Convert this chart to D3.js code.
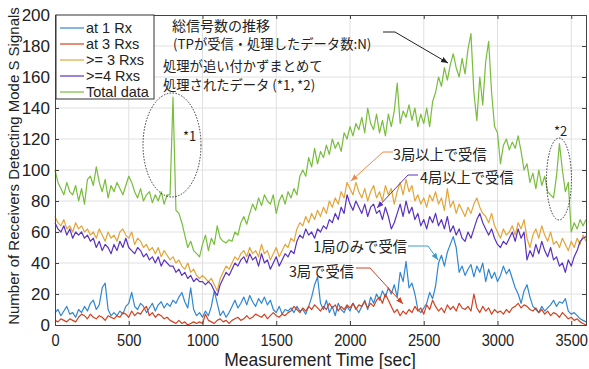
<!DOCTYPE html>
<html>
<head>
<meta charset="utf-8">
<script src="https://cdn.jsdelivr.net/npm/d3@7"></script>
<style>
  body { margin: 0; background: #fff; }
  svg text { font-family: "Liberation Sans", Arial, sans-serif; fill: #222; }
  svg text.jp { font-family: "Noto Sans CJK JP", sans-serif; }
</style>
</head>
<body>
<svg id="chart" width="589" height="369"></svg>
<script>
// samples every 20 s, 0 .. 3600 s
const step = 20;

const at1Rx = [
  8, 10, 6, 9, 12, 7, 8, 5, 10, 8,
  12, 9, 14, 16, 10, 13, 24, 27, 10, 6,
  8, 6, 9, 7, 12, 14, 21, 12, 10, 14,
  12, 8, 11, 14, 9, 13, 15, 11, 14, 12,
  16, 14, 18, 21, 15, 11, 24, 10, 6, 8,
  5, 9, 6, 12, 22, 14, 6, 9, 5, 8,
  12, 16, 11, 14, 18, 13, 19, 15, 12, 17,
  14, 18, 13, 16, 10, 8, 12, 7, 10, 9,
  11, 8, 12, 9, 10, 7, 12, 18, 26, 31,
  14, 10, 16, 8, 12, 6, 14, 10, 8, 12,
  9, 14, 11, 8, 12, 16, 10, 18, 14, 20,
  16, 22, 18, 24, 20, 26, 18, 34, 28, 41,
  24, 27, 20, 10, 8, 11, 14, 21, 17, 25,
  40, 45, 38, 47, 52, 57, 50, 34, 38, 32,
  36, 39, 31, 38, 34, 40, 28, 36, 30, 34,
  28, 32, 38, 33, 36, 30, 24, 20, 14, 22,
  26, 18, 12, 10, 8, 12, 9, 11, 13, 16,
  12, 15, 14, 17, 9, 7, 8, 6, 4, 3,
  2
];

const at3Rxs = [
  3, 2, 4, 3, 2, 4, 3, 2, 5, 7,
  6, 4, 7, 5, 4, 6, 5, 3, 6, 5,
  4, 6, 5, 8, 7, 5, 9, 6, 8, 7,
  10, 12, 6, 8, 5, 7, 6, 4, 5, 3,
  2, 1, 3, 1, 2, 0, 1, 2, 1, 2,
  1, 7, 3, 2, 1, 3, 4, 2, 3, 1,
  3, 4, 5, 3, 4, 6, 4, 5, 7, 6,
  5, 7, 4, 6, 8, 6, 5, 7, 6, 8,
  9, 12, 10, 8, 11, 9, 12, 10, 13, 11,
  9, 12, 10, 14, 11, 13, 9, 12, 10, 13,
  11, 14, 10, 13, 12, 15, 11, 14, 12, 16,
  18, 14, 20, 16, 12, 8, 10, 6, 9, 7,
  10, 8, 12, 9, 11, 7, 13, 10, 16, 12,
  9, 11, 8, 13, 10, 12, 9, 14, 11, 10,
  12, 9, 20, 11, 8, 12, 9, 11, 7, 10,
  8, 9, 7, 10, 8, 11, 12, 14, 11, 13,
  12, 10, 9, 11, 8, 10, 7, 9, 6, 8,
  7, 5, 8, 6, 4, 5, 3, 4, 2, 1,
  0
];

const atLeast3Rxs = [
  70, 66, 64, 68, 62, 64, 60, 66, 62, 64,
  60, 62, 58, 60, 56, 62, 58, 54, 60, 56,
  58, 54, 60, 62, 58, 56, 60, 52, 56, 54,
  50, 52, 48, 50, 46, 50, 44, 48, 45, 42,
  44, 40, 42, 38, 36, 40, 34, 36, 32, 30,
  32, 30, 28, 30, 26, 22, 30, 34, 38, 36,
  40, 44, 42, 46, 48, 44, 50, 46, 48, 44,
  52, 46, 48, 42, 46, 50, 44, 48, 52, 50,
  56, 54, 62, 66, 64, 70, 66, 72, 68, 74,
  70, 76, 72, 80, 76, 82, 78, 86, 82, 92,
  88, 84, 92, 86, 82, 88, 80, 86, 90, 82,
  86, 80, 90, 84, 88, 78, 86, 92, 84, 94,
  86, 90, 80, 84, 78, 82, 76, 84, 80, 86,
  78, 82, 74, 88, 76, 80, 72, 78, 74, 70,
  76, 72, 78, 82, 76, 72, 70, 66, 72, 64,
  60, 56, 62, 58, 60, 64, 58, 66, 62, 68,
  56, 50, 58, 62, 56, 64, 58, 54, 60, 52,
  54, 50, 56, 52, 48, 54, 50, 56, 52, 58,
  54
];

const atLeast4Rxs = [
  66, 62, 60, 64, 58, 62, 56, 60, 58, 60,
  56, 58, 54, 56, 50, 54, 48, 52, 50, 46,
  52, 48, 54, 50, 56, 50, 48, 46, 50, 48,
  44, 46, 42, 44, 40, 44, 38, 42, 40, 38,
  38, 34, 36, 32, 34, 30, 32, 28, 30, 28,
  28, 26, 28, 26, 22, 19, 26, 30, 34, 32,
  36, 40, 38, 42, 44, 40, 46, 42, 44, 38,
  46, 40, 42, 36, 40, 44, 38, 42, 46, 44,
  48, 46, 54, 58, 56, 62, 58, 60, 56, 62,
  60, 64, 62, 68, 66, 72, 68, 76, 72, 84,
  78, 74, 80, 76, 72, 78, 70, 76, 78, 72,
  74, 68, 76, 70, 62, 66, 72, 78, 70, 80,
  72, 76, 68, 72, 64, 68, 62, 70, 66, 72,
  64, 68, 62, 70, 60, 64, 58, 62, 56, 54,
  60, 56, 62, 68, 72, 66, 62, 58, 62, 56,
  52, 50, 54, 52, 56, 60, 54, 62, 56, 60,
  42, 48, 44, 52, 46, 54, 48, 44, 50, 42,
  44, 38, 40, 34, 42, 38, 44, 48, 54, 56,
  57
];

const totalData = [
  100, 92, 88, 84, 92, 86, 84, 90, 80, 88,
  78, 94, 96, 90, 102, 92, 86, 94, 82, 90,
  86, 92, 88, 84, 90, 96, 92, 86, 82, 88,
  80, 84, 86, 79, 84, 80, 86, 78, 84, 84,
  147, 74, 72, 66, 58, 50, 54, 48, 46, 44,
  52, 58, 48, 56, 52, 64, 56, 54, 53, 55,
  54, 60, 58, 66, 70, 65, 72, 78, 74, 82,
  77, 84, 80, 78, 84, 72, 80, 84, 78, 86,
  82, 88, 84, 96, 100, 96, 108, 102, 114, 104,
  112, 108, 116, 110, 120, 114, 118, 112, 124, 120,
  128, 122, 130, 126, 134, 124, 140, 130, 126, 136,
  124, 132, 122, 136, 128, 138, 156, 130, 138, 134,
  142, 132, 140, 128, 136, 130, 140, 128, 144, 150,
  160, 154, 166, 158, 168, 175, 166, 160, 172, 162,
  178, 188, 150, 132, 160, 142, 170, 183, 150, 128,
  124, 104, 116, 120, 113, 118, 114, 122, 112, 100,
  104, 92, 98, 88, 100, 90, 96, 86, 84, 82,
  96, 117, 100, 86, 92, 60, 66, 62, 68, 64,
  68
];

const seriesNames = ['at 1 Rx', 'at 3 Rxs', '>= 3 Rxs', '>=4 Rxs', 'Total data'];
const seriesColors = ['#2f86d2', '#d2401e', '#e2a53a', '#5a32c0', '#78bd3c'];
const xTicks = [0, 500, 1000, 1500, 2000, 2500, 3000, 3500];
const yTicks = [0, 20, 40, 60, 80, 100, 120, 140, 160, 180, 200];

const series = [at1Rx, at3Rxs, atLeast3Rxs, atLeast4Rxs, totalData].map((values, i) => ({
  name: seriesNames[i],
  color: seriesColors[i],
  values: values,
}));

const svg = d3.select('#chart');
const plotLeft = 55, plotRight = 586, plotTop = 15, plotBottom = 325;

const x = d3.scaleLinear().domain([0, 3600]).range([plotLeft, plotRight]);
const y = d3.scaleLinear().domain([0, 200]).range([plotBottom, plotTop]);

// grid
svg.append('g')
  .selectAll('line')
  .data(xTicks.slice(1))
  .join('line')
  .attr('x1', (d) => x(d)).attr('x2', (d) => x(d))
  .attr('y1', plotTop).attr('y2', plotBottom)
  .attr('stroke', '#e0e0e0');
svg.append('g')
  .selectAll('line')
  .data(yTicks.slice(1, -1))
  .join('line')
  .attr('x1', plotLeft).attr('x2', plotRight)
  .attr('y1', (d) => y(d)).attr('y2', (d) => y(d))
  .attr('stroke', '#e0e0e0');

// lines
const line = d3.line()
  .x((d, i) => x(i * step))
  .y((d) => y(d));

svg.append('g')
  .attr('fill', 'none')
  .selectAll('path')
  .data(series)
  .join('path')
  .attr('stroke', (d) => d.color)
  .attr('stroke-width', 1.2)
  .attr('stroke-linejoin', 'round')
  .attr('d', (d) => line(d.values));

// axes (MATLAB style, ticks inward, box on)
const fmt = d3.format('d');
const xAxis = svg.append('g')
  .attr('transform', `translate(0,${plotBottom})`)
  .call(d3.axisBottom(x).tickValues(xTicks).tickFormat(fmt).tickSize(-4).tickPadding(9));
const yAxis = svg.append('g')
  .attr('transform', `translate(${plotLeft},0)`)
  .call(d3.axisLeft(y).tickValues(yTicks).tickFormat(fmt).tickSize(-4).tickPadding(5));
svg.append('g')
  .attr('transform', `translate(0,${plotTop})`)
  .call(d3.axisTop(x).tickValues(xTicks).tickSize(-4).tickFormat(''));
svg.append('g')
  .attr('transform', `translate(${plotRight},0)`)
  .call(d3.axisRight(y).tickValues(yTicks).tickSize(-4).tickFormat(''));

svg.selectAll('.domain').attr('stroke', '#444');
svg.selectAll('.tick line').attr('stroke', '#444');
// the source figure uses tall, narrow digits on the time axis
xAxis.selectAll('text')
  .attr('font-size', 17).attr('fill', '#222')
  .attr('transform', 'scale(0.86,1)');
yAxis.selectAll('text').attr('font-size', 17).attr('fill', '#222');

// axis titles
svg.append('text')
  .attr('x', 320)
  .attr('y', 366)
  .attr('text-anchor', 'middle')
  .attr('font-size', 17.5)
  .text('Measurement Time [sec]');
svg.append('text')
  .attr('transform', 'translate(19,166) rotate(-90)')
  .attr('text-anchor', 'middle')
  .attr('font-size', 15)
  .text('Number of Receivers Detecting Mode S Signals');

// legend
const legend = svg.append('g');
legend.append('rect')
  .attr('x', 56).attr('y', 15)
  .attr('width', 98).attr('height', 84)
  .attr('fill', '#fff')
  .attr('stroke', '#333');
const entry = legend.selectAll('g.entry')
  .data(series)
  .join('g')
  .attr('class', 'entry')
  .attr('transform', (d, i) => `translate(0,${28 + i * 16})`);
entry.append('line')
  .attr('x1', 60).attr('x2', 84)
  .attr('stroke', (d) => d.color)
  .attr('stroke-width', 1.2);
entry.append('text')
  .attr('x', 86)
  .attr('y', 5)
  .attr('font-size', 14.5)
  .text((d) => d.name);

// annotations
const notes = svg.append('g');
const note = (tx, ty, str, size, anchor) =>
  notes.append('text')
    .attr('class', 'jp')
    .attr('x', tx).attr('y', ty)
    .attr('font-size', size)
    .attr('text-anchor', anchor || 'start')
    .text(str);

note(172, 31, '総信号数の推移', 14);
note(173, 49, '(TPが受信・処理したデータ数:N)', 13.3);
note(163, 71, '処理が追い付かずまとめて', 13.3);
note(163, 90, '処理されたデータ (*1, *2)', 13.3);
note(183, 141, '*1', 13);
note(554, 136, '*2', 13);
note(393, 160, '3局以上で受信', 14.3);
note(420, 183, '4局以上で受信', 14.3);
note(407, 252, '1局のみで受信', 14.3, 'end');
note(354, 277, '3局で受信', 14.3, 'end');

// dotted ellipses
notes.append('ellipse')
  .attr('cx', 172).attr('cy', 145).attr('rx', 29).attr('ry', 52)
  .attr('fill', 'none').attr('stroke', '#333')
  .attr('stroke-dasharray', '1.5,1.5');
notes.append('ellipse')
  .attr('cx', 559).attr('cy', 179).attr('rx', 12.5).attr('ry', 41)
  .attr('fill', 'none').attr('stroke', '#333')
  .attr('stroke-dasharray', '1.5,1.5');

// arrows
const arrows = [
  { color: '#222', pts: [[383, 32], [395, 32], [448, 63]] },
  { color: '#ee8a4a', pts: [[393, 152], [383, 152], [351, 181]] },
  { color: '#5a32c0', pts: [[418, 175], [408, 175], [377, 208]] },
  { color: '#3a9ad0', pts: [[408, 246], [428, 246], [438, 260]] },
  { color: '#d2401e', pts: [[356, 268], [370, 268], [403, 304]] },
];
const defs = svg.append('defs');
arrows.forEach((a, i) => {
  defs.append('marker')
    .attr('id', 'arr' + i)
    .attr('viewBox', '0 -5 10 10')
    .attr('refX', 10).attr('refY', 0)
    .attr('markerWidth', 7).attr('markerHeight', 7)
    .attr('markerUnits', 'userSpaceOnUse')
    .attr('orient', 'auto')
    .append('path')
    .attr('d', 'M0,-4L10,0L0,4Z')
    .attr('fill', a.color);
  notes.append('path')
    .attr('d', d3.line()(a.pts))
    .attr('fill', 'none')
    .attr('stroke', a.color)
    .attr('stroke-width', 1)
    .attr('marker-end', `url(#arr${i})`);
});
</script>
</body>
</html>
